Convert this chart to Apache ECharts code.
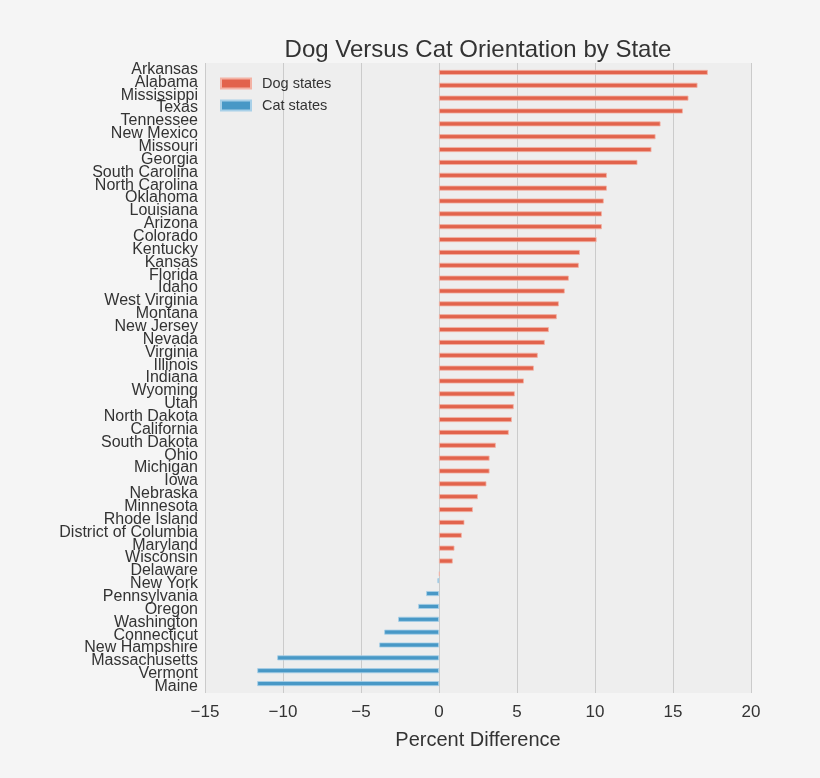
<!DOCTYPE html>
<html>
<head>
<meta charset="utf-8">
<script src="https://cdn.jsdelivr.net/npm/echarts@6/dist/echarts.min.js"></script>
<style>
html,body{margin:0;padding:0;background:#F5F5F5;}
#chart{width:820px;height:778px;}
</style>
</head>
<body>
<div id="chart"></div>
<script>
const states = ["Arkansas","Alabama","Mississippi","Texas","Tennessee","New Mexico","Missouri","Georgia","South Carolina","North Carolina","Oklahoma","Louisiana","Arizona","Colorado","Kentucky","Kansas","Florida","Idaho","West Virginia","Montana","New Jersey","Nevada","Virginia","Illinois","Indiana","Wyoming","Utah","North Dakota","California","South Dakota","Ohio","Michigan","Iowa","Nebraska","Minnesota","Rhode Island","District of Columbia","Maryland","Wisconsin","Delaware","New York","Pennsylvania","Oregon","Washington","Connecticut","New Hampshire","Massachusetts","Vermont","Maine"];
const dogValues = [17.23,16.57,15.99,15.63,14.20,13.88,13.62,12.72,10.76,10.76,10.56,10.44,10.44,10.10,9.03,8.96,8.32,8.06,7.68,7.55,7.04,6.78,6.33,6.08,5.44,4.86,4.79,4.67,4.47,3.64,3.24,3.24,3.04,2.49,2.17,1.63,1.46,0.99,0.88,0.05,'-','-','-','-','-','-','-','-','-'];
const catValues = ['-','-','-','-','-','-','-','-','-','-','-','-','-','-','-','-','-','-','-','-','-','-','-','-','-','-','-','-','-','-','-','-','-','-','-','-','-','-','-','-',-0.10,-0.82,-1.33,-2.62,-3.51,-3.83,-10.37,-11.65,-11.65];
const xTicks = {min:-15, max:20, interval:5};

const chart = echarts.init(document.getElementById('chart'), null, {renderer:'canvas'});
const font = 'Liberation Sans, Arial, sans-serif';
chart.setOption({
  backgroundColor:'#F5F5F5',
  animation:false,
  title:{
    text:'Dog Versus Cat Orientation by State',
    left:478, top:38, textAlign:'center', padding:0,
    textStyle:{fontFamily:font, fontSize:24, fontWeight:'normal', color:'#333333'}
  },
  legend:{
    orient:'vertical', left:220, top:76, padding:0, itemWidth:30, itemHeight:10, itemGap:7,
    icon:'rect',
    textStyle:{fontFamily:font, fontSize:14.5, color:'#333333', padding:[0,0,0,6]},
    data:['Dog states','Cat states']
  },
  grid:{left:205, right:69, top:63, bottom:85, show:true, backgroundColor:'#EEEEEE', borderWidth:0, containLabel:false},
  xAxis:{
    type:'value', min:xTicks.min, max:xTicks.max, interval:xTicks.interval,
    axisLine:{show:false}, axisTick:{show:false},
    splitLine:{show:true, lineStyle:{color:'#CBCBCB', width:1}},
    axisLabel:{fontFamily:font, fontSize:17, color:'#333333', margin:11,
      formatter:v=>String(v).replace('-','\u2212')},
    name:'Percent Difference', nameLocation:'middle', nameGap:37,
    nameTextStyle:{fontFamily:font, fontSize:20, color:'#333333'}
  },
  yAxis:{
    type:'category', data:states, inverse:true,
    axisLine:{show:false}, axisTick:{show:false}, splitLine:{show:false},
    axisLabel:{fontFamily:font, fontSize:16, color:'#333333', margin:7, interval:0}
  },
  series:[
    {name:'Cat states', type:'bar', data:catValues, barWidth:5, barGap:'20%',
     itemStyle:{color:'#4898C6', borderColor:'#A8D0E8', borderWidth:0.8}},
    {name:'Dog states', type:'bar', data:dogValues, barWidth:5, barGap:'20%',
     itemStyle:{color:'#E2634C', borderColor:'#F3B2A4', borderWidth:0.8}}
  ]
});
</script>
</body>
</html>
